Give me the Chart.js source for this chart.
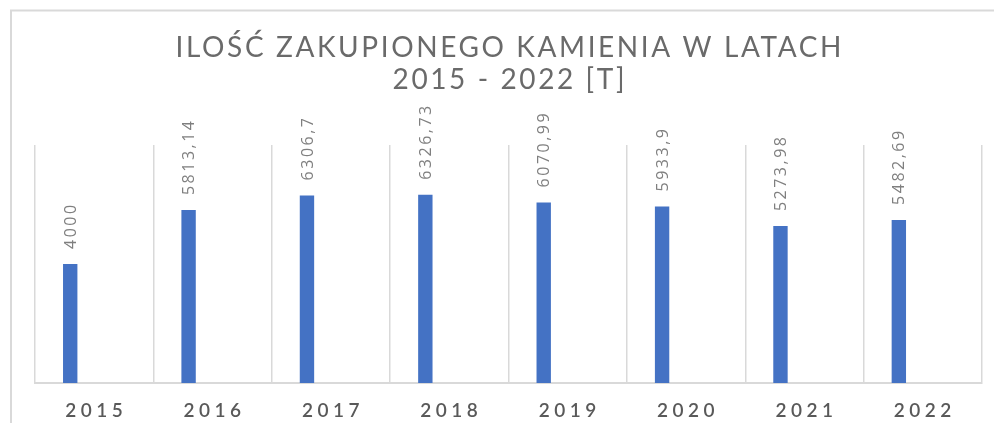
<!DOCTYPE html>
<html>
<head>
<meta charset="utf-8">
<script src="https://cdn.jsdelivr.net/npm/chart.js"></script>
<style>
  html, body { margin: 0; padding: 0; background: #ffffff; }
  #wrap { width: 994px; height: 423px; position: relative; }
</style>
</head>
<body>
<div id="wrap"><canvas id="c" width="994" height="423"></canvas></div>
<script>
const categories = ['2015', '2016', '2017', '2018', '2019', '2020', '2021', '2022'];
const values = [4000, 5813.14, 6306.7, 6326.73, 6070.99, 5933.9, 5273.98, 5482.69];
const emptySeries = [null, null, null, null, null, null, null, null];
const titleLines = ['ILOŚĆ ZAKUPIONEGO KAMIENIA W LATACH', '2015 - 2022 [T]'];
const yMin = 0, yMax = 8000;

function fmt(v) { return String(v).replace('.', ','); }

const decor = {
  id: 'decor',
  beforeDraw(chart) {
    const ctx = chart.ctx;
    ctx.save();
    ctx.fillStyle = '#ffffff';
    ctx.fillRect(0, 0, chart.width, chart.height);
    ctx.strokeStyle = '#d9d9d9';
    ctx.lineWidth = 2;
    ctx.beginPath();
    ctx.moveTo(11, 423);
    ctx.lineTo(11, 10.5);
    ctx.lineTo(994, 10.5);
    ctx.stroke();
    ctx.restore();
  },
  afterDraw(chart) {
    const ctx = chart.ctx;
    const area = chart.chartArea;
    const xs = chart.scales.x;
    const cx = (area.left + area.right) / 2;
    ctx.save();
    // title
    ctx.fillStyle = '#6a6a6a';
    ctx.textAlign = 'center';
    ctx.textBaseline = 'alphabetic';
    ctx.font = '400 28px Lato, "Open Sans", sans-serif';
    ctx.letterSpacing = '2.6px';
    ctx.fillText(titleLines[0], cx + 1.3, 57);
    ctx.fillText(titleLines[1], cx + 1.3, 89);
    // category labels
    ctx.font = '600 19px Lato, "Open Sans", sans-serif';
    ctx.letterSpacing = '4.5px';
    ctx.fillStyle = '#595959';
    categories.forEach((c, i) => {
      ctx.fillText(c, xs.getPixelForValue(i) + 2, 417);
    });
    // data labels
    const meta = chart.getDatasetMeta(0);
    ctx.font = '400 16px "Open Sans", sans-serif';
    ctx.letterSpacing = '2.5px';
    ctx.fillStyle = '#7f7f7f';
    ctx.textAlign = 'left';
    ctx.textBaseline = 'middle';
    meta.data.forEach((bar, i) => {
      ctx.save();
      ctx.translate(bar.x + 1, bar.y - 15);
      ctx.rotate(-Math.PI / 2);
      ctx.fillText(fmt(values[i]), 0, 0);
      ctx.restore();
    });
    ctx.restore();
  }
};

new Chart(document.getElementById('c'), {
  type: 'bar',
  data: {
    labels: categories,
    datasets: [
      { data: values, backgroundColor: '#4472C4', borderWidth: 0,
        categoryPercentage: 0.81, barPercentage: 0.30 },
      { data: emptySeries, backgroundColor: '#ED7D31', borderWidth: 0,
        categoryPercentage: 0.81, barPercentage: 0.30 }
    ]
  },
  options: {
    responsive: false,
    animation: false,
    layout: { padding: { left: 35, right: 12, top: 145, bottom: 40 } },
    plugins: { legend: { display: false }, title: { display: false }, tooltip: { enabled: false } },
    scales: {
      x: {
        offset: true,
        grid: { display: true, offset: true, color: '#d9d9d9', lineWidth: 1.5, drawTicks: false },
        border: { display: true, color: '#d9d9d9', width: 2 },
        ticks: { display: false }
      },
      y: {
        display: false,
        min: yMin, max: yMax
      }
    }
  },
  plugins: [decor]
});
</script>
</body>
</html>
